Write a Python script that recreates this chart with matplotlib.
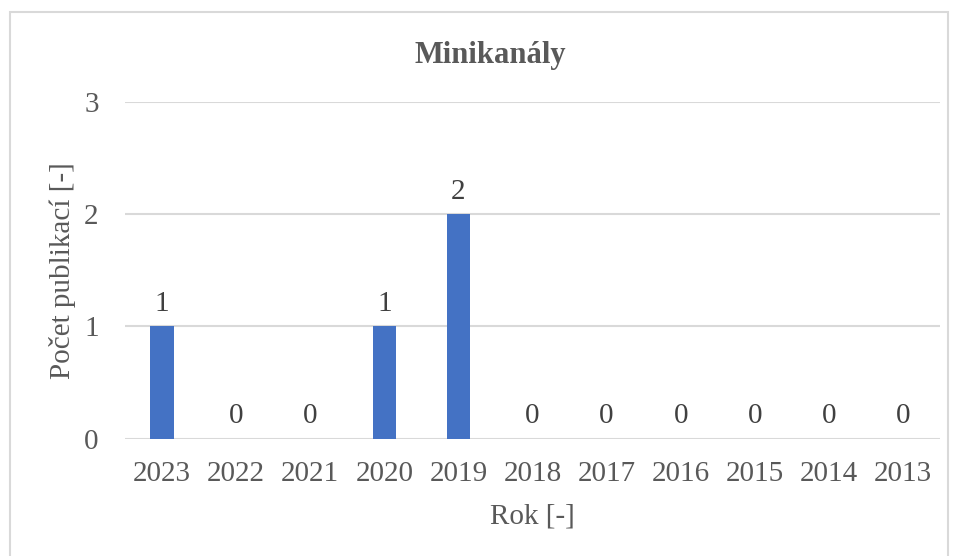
import matplotlib.pyplot as plt
from matplotlib.patches import Rectangle

# Data
years = ["2023", "2022", "2021", "2020", "2019", "2018", "2017", "2016", "2015", "2014", "2013"]
counts = [1, 0, 0, 1, 2, 0, 0, 0, 0, 0, 0]

bar_color = "#4472C4"
text_color = "#595959"
grid_color = "#D9D9D9"
fs = 21

plt.rcParams['font.family'] = ['Liberation Serif', 'DejaVu Serif']

fig = plt.figure(figsize=(9.57, 5.56), dpi=100)
W, H = 957, 556

# plot area in pixels: left 125, right 940, top 102, bottom 438.7
ax = fig.add_axes([125 / W, 1 - 438.7 / H, (940 - 125) / W, (438.7 - 102) / H])

x = list(range(len(years)))
bars = ax.bar(x, counts, width=0.315, color=bar_color, zorder=3)

ax.set_xlim(-0.5, len(years) - 0.5)
ax.set_ylim(0, 3)
ax.set_yticks([0, 1, 2, 3])
ax.set_xticks(x)
ax.set_xticklabels(years)

for xi, v in zip(x, counts):
    ax.annotate(str(v), (xi, v), xytext=(0, 7), textcoords="offset points",
                ha="center", va="bottom", fontsize=fs, color="#404040")

ax.grid(axis="y", color=grid_color, linewidth=1.5, zorder=0)
for s in ax.spines.values():
    s.set_visible(False)
ax.tick_params(axis="both", length=0, labelsize=fs, labelcolor=text_color)
ax.tick_params(axis="x", pad=16)
ax.tick_params(axis="y", pad=19)

ax.set_xlabel("Rok [-]", fontsize=fs, color=text_color, va="center")
ax.xaxis.set_label_coords(0.5, (438.7 - 517) / 336.7)
ax.set_ylabel("Počet publikací [-]", fontsize=fs, color=text_color, va="center")
ax.yaxis.set_label_coords((63 - 125) / 815, 0.5)

fig.text(490 / W, 1 - 55 / H, "Minikanály", ha="center", va="center",
         fontsize=22, fontweight="bold", color=text_color)

# outer chart border
fig.patches.append(Rectangle((10 / W, -0.05), (948 - 10) / W, 1 - 12 / H + 0.05,
                             transform=fig.transFigure, fill=False,
                             edgecolor=grid_color, linewidth=1.5))

fig.savefig("out.png", dpi=100)
